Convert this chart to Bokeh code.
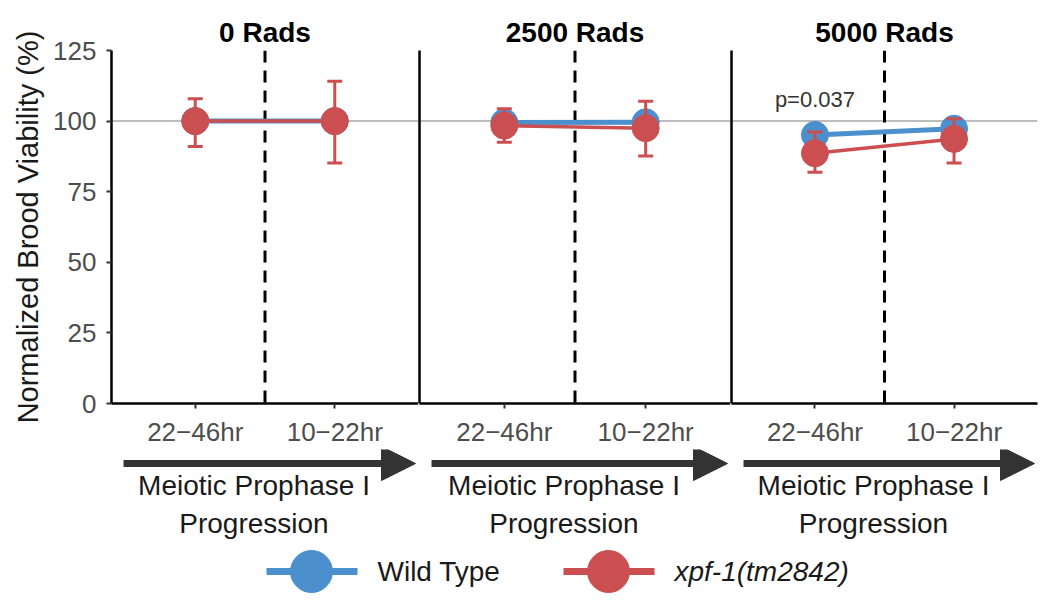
from bokeh.plotting import figure
from bokeh.layouts import column, row
from bokeh.models import (Range1d, FixedTicker, Span, Whisker, TeeHead,
                          ColumnDataSource, Arrow, NormalHead)
from bokeh.core.properties import value
from bokeh.embed import file_html
from bokeh.resources import INLINE

# ---------------- data ----------------
doses = ["0 Rads", "2500 Rads", "5000 Rads"]
timepoints = ["22−46hr", "10−22hr"]
y_ticks = [0, 25, 50, 75, 100, 125]
series = ["Wild Type", "xpf-1(tm2842)"]
wt_mean = [[100.0, 100.0], [99.5, 99.6], [95.1, 97.3]]
xpf_mean = [[100.0, 100.0], [98.4, 97.5], [88.6, 93.7]]
xpf_lower = [[91.0, 85.2], [92.5, 87.6], [81.9, 85.2]]
xpf_upper = [[107.9, 114.1], [104.4, 107.0], [96.1, 100.8]]
pvalue_text = ["", "", "p=0.037"]
pvalue_y = 107.5
reference_level = 100
arrow_label = "Meiotic Prophase I\nProgression"

# ---------------- style / layout ----------------
BLUE = "#4B8FCC"
RED = "#CB4F51"
FONT = "Liberation Sans"
ORIGIN = 0
PANEL_LEFT = [111, 419, 731]
PANEL_W = [307, 311, 306]
FRAME_TOP = 50
FRAME_H = 353
X_AXIS_H = 46
PAGE_RIGHT = 1042
PAGE_BOTTOM = 598

xpos = [i + 1 for i in range(len(timepoints))]
boundary = sum(xpos) / len(xpos)

panels = []
prev_right = ORIGIN
for k, dose in enumerate(doses):
    left_border = PANEL_LEFT[k] - prev_right
    right_border = (PAGE_RIGHT - (PANEL_LEFT[k] + PANEL_W[k])) if k == len(doses) - 1 else 0
    p = figure(output_backend="svg", toolbar_location=None,
               frame_width=PANEL_W[k], frame_height=FRAME_H,
               x_range=Range1d(0.4, 2.6), y_range=Range1d(0, 125),
               min_border_left=left_border, min_border_right=right_border,
               min_border_top=FRAME_TOP - ORIGIN, min_border_bottom=X_AXIS_H,
               background_fill_color="white", border_fill_color="white")
    prev_right = PANEL_LEFT[k] + PANEL_W[k] + right_border
    p.outline_line_color = None
    p.grid.visible = False

    p.title.text = dose
    p.title.align = "center"
    p.title.text_font = FONT
    p.title.text_font_size = "28px"
    p.title.text_font_style = "bold"
    p.title.text_color = "black"
    p.title.standoff = 6

    xa = p.xaxis[0]
    xa.ticker = FixedTicker(ticks=xpos)
    xa.major_label_overrides = {x: t for x, t in zip(xpos, timepoints)}
    xa.minor_tick_line_color = None
    xa.major_tick_out = 5
    xa.major_tick_in = 0
    xa.major_tick_line_width = 2
    xa.major_tick_line_color = "#333333"
    xa.axis_line_width = 2.5
    xa.axis_line_color = "black"
    xa.major_label_text_font = FONT
    xa.major_label_text_font_size = "26px"
    xa.major_label_text_color = "#4D4D4D"
    xa.major_label_standoff = 8

    ya = p.yaxis[0]
    ya.axis_line_width = 2.5
    ya.axis_line_color = "black"
    ya.minor_tick_line_color = None
    if k == 0:
        ya.ticker = FixedTicker(ticks=y_ticks)
        ya.major_tick_out = 5
        ya.major_tick_in = 0
        ya.major_tick_line_width = 2
        ya.major_tick_line_color = "#333333"
        ya.major_label_text_font = FONT
        ya.major_label_text_font_size = "26px"
        ya.major_label_text_color = "#4D4D4D"
        ya.major_label_standoff = 10
        ya.axis_label = "Normalized Brood Viability (%)"
        ya.axis_label_text_font = FONT
        ya.axis_label_text_font_size = "29px"
        ya.axis_label_text_font_style = "normal"
        ya.axis_label_text_color = "#1A1A1A"
        ya.axis_label_standoff = 6
    else:
        ya.ticker = FixedTicker(ticks=[])
        ya.major_tick_out = 0
        ya.major_tick_in = 0
        ya.major_label_standoff = 0
        ya.major_label_text_font_size = "0px"

    p.add_layout(Span(location=reference_level, dimension="width",
                      line_color="#BDBDBD", line_width=2, level="underlay"))
    p.add_layout(Span(location=boundary, dimension="height",
                      line_color="black", line_width=3, line_dash="12 8",
                      level="underlay"))

    # Wild type
    p.line(xpos, wt_mean[k], line_color=BLUE, line_width=5)
    p.scatter(xpos, wt_mean[k], size=27, marker="circle",
              fill_color=BLUE, line_color=BLUE)
    # xpf-1
    p.line(xpos, xpf_mean[k], line_color=RED, line_width=3.5)
    p.scatter(xpos, xpf_mean[k], size=27, marker="circle",
              fill_color=RED, line_color=RED)
    src = ColumnDataSource(dict(x=xpos, lo=xpf_lower[k], hi=xpf_upper[k]))
    p.add_layout(Whisker(base="x", lower="lo", upper="hi", source=src,
                         dimension="height", line_color=RED, line_width=3,
                         level="annotation",
                         upper_head=TeeHead(size=15, line_color=RED, line_width=3),
                         lower_head=TeeHead(size=15, line_color=RED, line_width=3)))
    if pvalue_text[k]:
        p.text([xpos[0]], [pvalue_y], text=[pvalue_text[k]],
               text_font=value(FONT), text_font_size="22px",
               text_color="#333333", text_align="center",
               text_baseline="middle")
    panels.append(p)

# ---------------- bottom strip: arrows, captions, legend ----------------
strip_top = FRAME_TOP + FRAME_H + X_AXIS_H
bw = PAGE_RIGHT - ORIGIN
bh = PAGE_BOTTOM - strip_top
b = figure(output_backend="svg", toolbar_location=None, width=bw, height=bh,
           x_range=Range1d(ORIGIN, PAGE_RIGHT),
           y_range=Range1d(PAGE_BOTTOM, strip_top),
           min_border=0, min_border_left=0, min_border_right=0,
           min_border_top=0, min_border_bottom=0,
           background_fill_color="white", border_fill_color="white")
b.outline_line_color = None
b.axis.visible = False
b.grid.visible = False

ARROW_Y = 463
for k in range(len(doses)):
    x0 = PANEL_LEFT[k] + 12
    x1 = PANEL_LEFT[k] + PANEL_W[k] - 3
    b.add_layout(Arrow(x_start=x0, y_start=ARROW_Y, x_end=x1, y_end=ARROW_Y,
                       line_width=7, line_color="#333333",
                       end=NormalHead(size=34, fill_color="#333333",
                                      line_color="#333333", line_width=1)))
cap_x = [PANEL_LEFT[k] + PANEL_W[k] / 2 - 11 for k in range(len(doses))]
b.text(cap_x, [504] * len(doses), text=[arrow_label] * len(doses),
       text_font=value(FONT), text_font_size="28px", text_color="#1A1A1A",
       text_align="center", text_baseline="middle", text_line_height=1.25)

LEG_Y = 571
LEG_X = [311, 608]
colors = [BLUE, RED]
styles = ["normal", "italic"]
for i, name in enumerate(series):
    b.segment([LEG_X[i] - 45], [LEG_Y], [LEG_X[i] + 46], [LEG_Y],
              line_color=colors[i], line_width=7)
    b.scatter([LEG_X[i]], [LEG_Y], size=42, marker="circle",
              fill_color=colors[i], line_color=colors[i])
    b.text([LEG_X[i] + 66], [LEG_Y], text=[name], text_font=value(FONT),
           text_font_size="28px", text_color="#1A1A1A",
           text_font_style=styles[i], text_align="left",
           text_baseline="middle")

layout = column(row(*panels, spacing=0), b, spacing=0)
open("out.html", "w").write(file_html(layout, INLINE))
